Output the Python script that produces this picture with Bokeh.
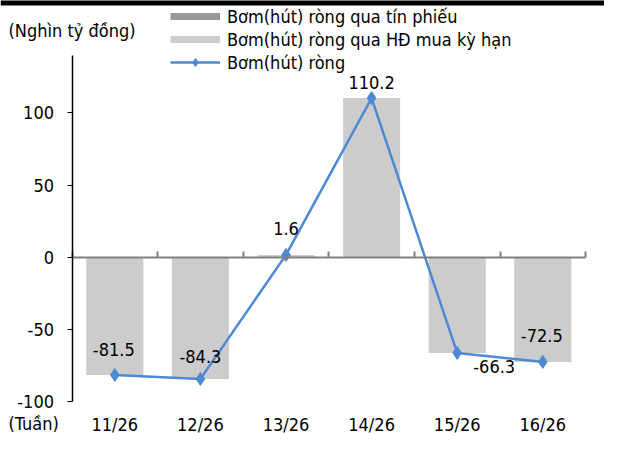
from bokeh.plotting import figure
from bokeh.models import (Range1d, FixedTicker, Label, Legend, LegendItem,
                          BoxAnnotation, LinearAxis)
from bokeh.core.properties import value
from bokeh.embed import file_html
from bokeh.resources import INLINE

# ---- data ----
categories = ["11/26", "12/26", "13/26", "14/26", "15/26", "16/26"]
tin_phieu = [0.0, 0.0, 0.0, 0.0, 0.0, 0.0]
hd_mua_ky_han = [-81.5, -84.3, 1.6, 110.2, -66.3, -72.5]
bom_hut_rong = [-81.5, -84.3, 1.6, 110.2, -66.3, -72.5]
y_ticks = [-100, -50, 0, 50, 100]
y_axis_lo, y_axis_hi = -100, 140

series_names = ["Bơm(hút) ròng qua tín phiếu",
                "Bơm(hút) ròng qua HĐ mua kỳ hạn",
                "Bơm(hút) ròng"]
y_unit = "(Nghìn tỷ đồng)"
x_unit = "(Tuần)"

# ---- style / layout ----
FONT = "DejaVu Sans Condensed"
FS = "18px"
BAR_LIGHT = "#cccccc"
BAR_DARK = "#999999"
LINE_C = "#4d8ad4"
AXIS_GREY = "#808080"

W, H = 604, 434
PX_PER_UNIT = 1.444      # vertical scale in pixels per data unit
ZERO_PX = 256.7          # pixel row of value 0
CAT_PX = 85.6            # pixel width of one category
FIRST_PX = 114.3         # pixel column of first category centre
NAN = float("nan")

xs = list(range(len(categories)))
x_range = Range1d(-FIRST_PX / CAT_PX, (W - FIRST_PX) / CAT_PX)
y_range = Range1d(-(H - ZERO_PX) / PX_PER_UNIT, ZERO_PX / PX_PER_UNIT)

p = figure(width=W, height=H, output_backend="svg", toolbar_location=None,
           x_range=x_range, y_range=y_range,
           min_border_left=0, min_border_right=0,
           min_border_top=0, min_border_bottom=0)
p.grid.visible = False
p.outline_line_color = None
p.background_fill_color = "white"
p.border_fill_color = "white"

# bars
r_tp = p.vbar(x=xs, top=tin_phieu, bottom=0, width=0.667,
              fill_color=BAR_DARK, line_color=None)
r_hd = p.vbar(x=xs, top=hd_mua_ky_han, bottom=0, width=0.667,
              fill_color=BAR_LIGHT, line_color=None)

# net line
r_line = p.line(xs, bom_hut_rong, line_color=LINE_C, line_width=2.5)
r_pts = p.scatter(xs, bom_hut_rong, marker="diamond", size=13,
                  fill_color=LINE_C, line_color=LINE_C)

# data labels
x_off = [-1, 0, 0, 0, 37, -1]
y_off = [-25, -22, -26, -16, 14, -26]
p.text(x=xs, y=bom_hut_rong, text=[f"{v:.1f}" for v in bom_hut_rong],
       x_offset=x_off, y_offset=y_off, text_align="center",
       text_baseline="middle", text_font=value(FONT), text_font_size=FS,
       text_color="black")

# y axis (value axis), fixed at left edge of the category area
ya = p.yaxis[0]
ya.fixed_location = -0.5
ya.bounds = (y_axis_lo, y_axis_hi)
ya.ticker = FixedTicker(ticks=y_ticks)
ya.major_label_overrides = {t: str(t) for t in y_ticks}
ya.axis_line_color = "black"
ya.axis_line_width = 1.5
ya.major_tick_line_color = "black"
ya.major_tick_out = 5
ya.major_tick_in = 0
ya.minor_tick_line_color = None
ya.major_label_standoff = 13
ya.major_label_text_font = FONT
ya.major_label_text_font_size = FS
ya.major_label_text_color = "black"

# category labels, placed at the bottom of the value axis
xa = p.xaxis[0]
xa.fixed_location = y_axis_lo
xa.ticker = FixedTicker(ticks=xs)
xa.major_label_overrides = {i: c for i, c in enumerate(categories)}
xa.axis_line_color = None
xa.major_tick_line_color = None
xa.minor_tick_line_color = None
xa.major_tick_out = 0
xa.major_tick_in = 0
xa.major_label_standoff = 12
xa.major_label_text_font = FONT
xa.major_label_text_font_size = FS
xa.major_label_text_color = "black"

# zero category axis with tick marks between categories
bounds = [i - 0.5 for i in range(len(categories) + 1)]
zero_axis = LinearAxis(fixed_location=0, ticker=FixedTicker(ticks=bounds),
                       bounds=(bounds[0], bounds[-1]),
                       major_label_overrides={b: "" for b in bounds},
                       axis_line_color=AXIS_GREY, axis_line_width=2,
                       major_tick_line_color=AXIS_GREY, major_tick_line_width=2,
                       major_tick_in=6, major_tick_out=0,
                       minor_tick_line_color=None)
p.add_layout(zero_axis, "below")

# unit labels
p.add_layout(Label(x=8, y=H - 30, x_units="screen", y_units="screen",
                   text=y_unit, text_font=FONT, text_font_size=FS,
                   text_align="left", text_baseline="middle", text_color="black"))
p.add_layout(Label(x=8, y=H - 423, x_units="screen", y_units="screen",
                   text=x_unit, text_font=FONT, text_font_size=FS,
                   text_align="left", text_baseline="middle", text_color="black"))

# top black rule
p.add_layout(BoxAnnotation(left=0, right=W, bottom=H - 5, top=H + 2,
                           left_units="screen", right_units="screen",
                           top_units="screen", bottom_units="screen",
                           fill_color="black", fill_alpha=1, line_color=None))

# legend with thin swatches (legend-only proxies, no visible data)
sw_tp = p.line([NAN], [NAN], line_color=BAR_DARK, line_width=7)
sw_hd = p.line([NAN], [NAN], line_color=BAR_LIGHT, line_width=7)
legend = Legend(items=[LegendItem(label=series_names[0], renderers=[sw_tp]),
                       LegendItem(label=series_names[1], renderers=[sw_hd]),
                       LegendItem(label=series_names[2], renderers=[r_line, r_pts])],
                location=(170, H - 8.5 - 64),
                orientation="vertical", padding=0, margin=0, spacing=2,
                glyph_width=50, glyph_height=20, label_height=20,
                label_standoff=7, border_line_color=None,
                background_fill_alpha=0, label_text_font=FONT,
                label_text_font_size=FS, label_text_color="black")
p.add_layout(legend, "center")

open("out.html", "w").write(file_html(p, INLINE))
